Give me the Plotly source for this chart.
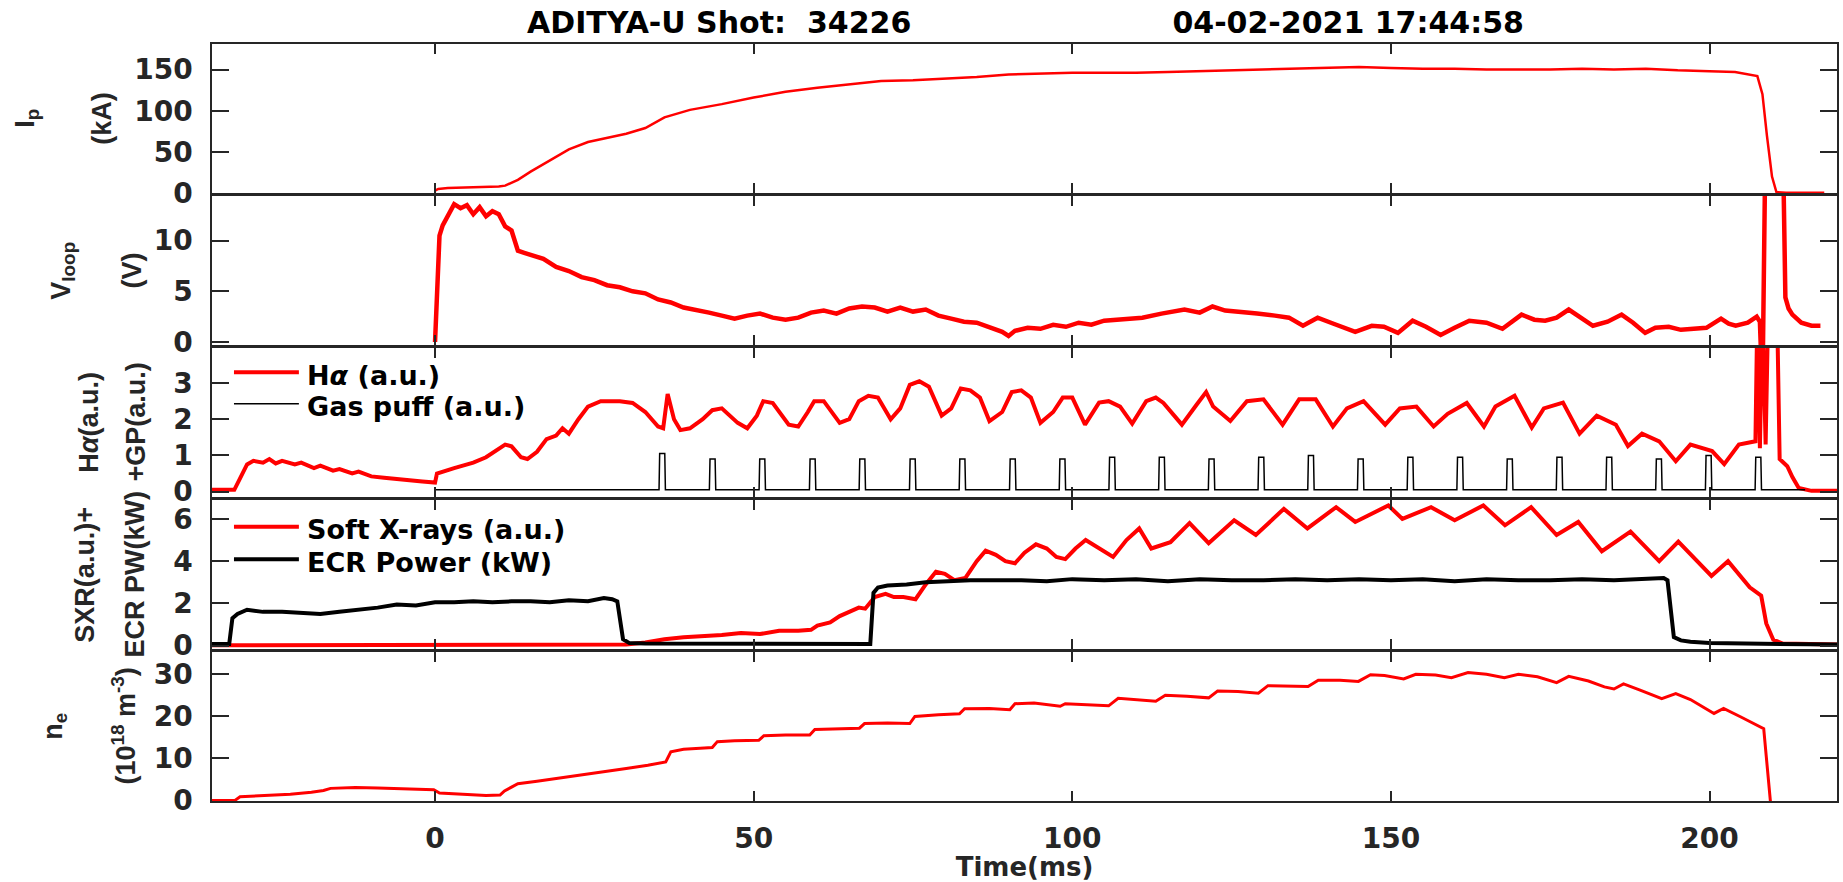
import plotly.graph_objects as go

# ---------------- time axis ----------------
X_RANGE = [-35, 220]
X_TICKS = [0, 50, 100, 150, 200]

# ---------------- plasma current Ip (kA) ----------------
ip_t = [0, 0.5, 2, 5, 8, 10, 11, 13, 15, 18, 21, 24, 27, 30, 33, 36, 40, 45, 50, 55,
        60, 65, 70, 75, 80, 85, 90, 95, 100, 105, 110, 115, 120, 125, 130, 135, 140, 145,
        150, 155, 160, 165, 170, 175, 180, 185, 190, 195, 200, 204, 207.5, 208.3, 209,
        209.8, 210.5, 212, 215, 218]
ip_v = [3, 5, 6, 6.5, 7, 8, 9, 16, 26, 40, 53, 62, 67, 72, 79, 92, 101, 108, 116, 123,
        128, 132, 136, 137, 139, 141, 144, 145, 146, 146, 146, 147, 148, 149, 150, 151, 152, 153,
        152, 151, 151, 150, 150, 150, 151, 150, 151, 149, 148, 147, 142, 120, 70,
        20, 1, 0.5, 0.5, 0.5]

# ---------------- loop voltage (V) ----------------
vl_t = [0, 0.7, 1.2, 2, 3, 4, 5, 6, 7, 8, 9, 10, 11, 12, 13, 14, 15, 17, 19, 21,
        23, 25, 27, 29, 31, 33, 35, 37, 39, 41, 43, 45, 47, 49, 51, 53, 55, 57, 59, 61,
        63, 65, 67, 69, 71, 73, 75, 77, 79, 81, 83, 85, 87, 89, 90, 91, 93, 95, 97, 99,
        101, 103, 105, 108, 111, 114, 117.6, 120, 122, 124, 126.5, 129, 131.8, 134, 136.2,
        138.5, 141, 144.4, 147, 148.9, 151.1, 153.4, 155.5, 157.8, 160, 162.3, 165, 167.5,
        170.5, 172.5, 174.2, 176, 177.9, 180, 181.7, 184, 186.2, 188, 189.9, 191.5, 193.6,
        195.5, 197.4, 199.5, 201.8, 203, 204.1, 206, 207.4, 207.9, 208.3, 208.7, 209.3,
        211.5, 211.9, 212.4, 213, 214.4, 216, 217.4]
vl_v = [0, 10.5, 11.5, 12.5, 13.6, 13.2, 13.5, 12.6, 13.3, 12.4, 12.9, 12.6, 11.4, 11.0, 9.0, 8.8, 8.6, 8.2, 7.4, 7.0,
        6.4, 6.1, 5.6, 5.4, 5.0, 4.8, 4.2, 3.9, 3.4, 3.2, 2.9, 2.6, 2.3, 2.6, 2.8, 2.4, 2.2, 2.4, 2.9, 3.1,
        2.8, 3.3, 3.5, 3.4, 3.0, 3.4, 3.0, 3.2, 2.6, 2.3, 2.0, 1.9, 1.5, 1.0, 0.6, 1.1, 1.4, 1.3, 1.7, 1.5,
        1.9, 1.7, 2.1, 2.3, 2.4, 2.8, 3.2, 2.9, 3.5, 3.1, 2.9, 2.8, 2.6, 2.4, 1.6,
        2.4, 1.8, 1.0, 1.6, 1.5, 0.9, 2.1, 1.5, 0.7, 1.4, 2.1, 1.9, 1.3,
        2.7, 2.2, 2.1, 2.4, 3.2, 2.3, 1.6, 2.0, 2.7, 1.9, 0.9, 1.4, 1.5,
        1.2, 1.3, 1.4, 2.3, 1.8, 1.6, 1.9, 2.5, 2.0, -5, 16, 20,
        20, 4.4, 3.3, 2.7, 1.9, 1.6, 1.6]

# ---------------- H-alpha (a.u.) ----------------
ha_t = [-35, -31.5, -30.5, -29.5, -28.5, -27, -26, -25, -24, -22, -21, -19, -18, -16, -15, -13,
        -12, -10, -8, -5, -2, 0, 0.3, 3, 6, 8, 10, 11, 12, 13.5, 14.5, 16, 17.5, 19, 20, 21,
        22.5, 24, 26, 29, 31, 33, 35, 35.8, 36.5, 37.5, 38.5, 40, 42, 43.5, 45, 47.5, 49,
        50.5, 51.5, 53, 55.5, 57, 58.5, 59.5, 61, 63.5, 65, 66.5, 68, 69.5, 71.5, 73, 74.5,
        76, 77.5, 79.5, 81, 82.5, 84, 85.5, 87, 89, 90.5, 92, 93.5, 95, 97, 98.5, 100, 102,
        104.2, 105.7, 107.5, 109.4, 111.6, 113.1, 114.3, 117.2, 119.5, 121, 122.1, 124.8,
        127.4, 130, 133, 135.6, 138.2, 140.9, 143.1, 145.7, 149.1, 151.4, 154, 156.7, 158.9,
        161.9, 164.6, 166.4, 169.4, 172.1, 174, 177, 179.6, 182.3, 185.3, 187.2, 189.4,
        192.1, 194.7, 197, 200.4, 202.3, 204.6, 207.2, 207.5, 207.9, 208.3, 208.8, 209.2,
        210.6, 211, 212.2, 213, 214, 216, 220]
ha_v = [0.05, 0.05, 0.4, 0.75, 0.85, 0.8, 0.9, 0.78, 0.85, 0.75, 0.8, 0.65, 0.72, 0.58, 0.62, 0.5,
        0.55, 0.42, 0.38, 0.32, 0.28, 0.25, 0.5, 0.65, 0.8, 0.95, 1.2, 1.3, 1.25, 0.95, 0.9, 1.1, 1.45, 1.55, 1.75, 1.6,
        2.0, 2.35, 2.5, 2.5, 2.45, 2.2, 1.8, 1.75, 2.7, 2.0, 1.7, 1.75, 2.0, 2.25, 2.3, 1.9, 1.75,
        2.1, 2.5, 2.45, 1.85, 1.8, 2.2, 2.5, 2.5, 1.9, 2.0, 2.5, 2.65, 2.6, 2.0, 2.3, 2.95,
        3.05, 2.9, 2.1, 2.3, 2.85, 2.8, 2.6, 1.95, 2.2, 2.75, 2.8, 2.6, 1.9, 2.2, 2.6, 2.6, 1.85,
        2.46, 2.5, 2.35, 1.88, 2.5, 2.6, 2.45, 1.85, 2.4, 2.75, 2.35, 1.95,
        2.5, 2.55, 1.85, 2.55, 2.55, 1.8, 2.3, 2.5, 1.85, 2.3, 2.35, 1.8, 2.15,
        2.45, 1.8, 2.35, 2.65, 1.77, 2.3, 2.46, 1.6, 2.1, 1.85, 1.26, 1.6,
        1.39, 0.84, 1.3, 1.12, 0.76, 1.3, 1.39, 5, 1.2, 5, 1.3, 5,
        5, 0.9, 0.7, 0.4, 0.1, 0.02, 0.02]

# ---------------- gas puff valve pulses (a.u.) ----------------
GP_BASE = 0.05
GP_START, GP_END = 0, 215
puff_t = [35.6, 43.5, 51.3, 59.2, 67.0, 74.9, 82.7, 90.6, 98.4, 106.2, 114.0, 121.8,
          129.6, 137.4, 145.2, 153.0, 160.8, 168.6, 176.4, 184.2, 192.0, 199.8, 207.6]
puff_h = [1.05, 0.9, 0.9, 0.9, 0.9, 0.9, 0.9, 0.9, 0.9, 0.95, 0.95, 0.9,
          0.95, 1.0, 0.9, 0.95, 0.95, 0.9, 0.95, 0.95, 0.9, 1.0, 0.95]
PULSE_HALF_WIDTH = 0.45

# ---------------- soft X-ray (a.u.) ----------------
sxr_t = [-35, -20, -5, 0, 10, 20, 28, 30, 33, 36, 39, 42, 45, 48, 51, 54, 57, 59, 60, 62,
         63.5, 65, 66.5, 67.5, 69, 70.7, 72, 73.5, 75.4, 77, 78.6, 80, 81.5, 83.2, 85, 86.4,
         88, 89.5, 91, 92.5, 94.3, 96, 97.5, 98.9, 100.5, 102.1, 104.2, 106.4, 108.5, 110.5,
         112.4, 115.4, 118.4, 121.4, 125.4, 128.8, 133.2, 136.9, 141.4, 144.4, 149.6, 151.8,
         156.3, 160, 164.5, 167.9, 172, 176, 179.4, 183.1, 187.6, 192.1, 195.1, 200.3, 202.9,
         206.3, 208.1, 208.9, 210, 211.5, 220]
sxr_v = [0.02, 0.03, 0.02, 0.04, 0.02, 0.03, 0.03, 0.05, 0.15, 0.3, 0.4, 0.45, 0.5, 0.6, 0.55, 0.7, 0.7, 0.75, 0.95, 1.1,
         1.4, 1.6, 1.8, 1.75, 2.3, 2.45, 2.3, 2.3, 2.2, 2.9, 3.5, 3.4, 3.1, 3.2, 4.0, 4.5,
         4.3, 4.0, 3.9, 4.4, 4.8, 4.6, 4.2, 4.1, 4.6, 5.0, 4.6, 4.2, 5.0, 5.55,
         4.6, 4.9, 5.8, 4.85, 5.94, 5.24, 6.48, 5.55, 6.56, 5.86, 6.64, 6.0,
         6.56, 5.94, 6.64, 5.7, 6.56, 5.24, 5.86, 4.47, 5.4, 4.0, 4.93, 3.3, 4.0,
         2.76, 2.37, 1.05, 0.28, 0.1, 0.05]

# ---------------- ECR power (kW) ----------------
ecr_t = [-35, -32.3, -31.8, -31, -29.5, -27, -24, -21, -18, -15, -12, -9, -6, -3, 0, 3, 6, 9, 12, 15,
         18, 21, 24, 26.5, 27.8, 28.6, 29.5, 30.5, 33, 40, 50, 60, 68.3, 68.8, 69.5, 71, 74, 77, 80, 84,
         88, 92, 96, 100, 105, 110, 115, 120, 125, 130, 135, 140, 145, 150, 155, 160, 165, 170, 175, 180,
         185, 190, 192.8, 193.4, 194.4, 195.5, 197, 200, 210, 220]
ecr_v = [0.08, 0.08, 1.3, 1.5, 1.7, 1.6, 1.6, 1.55, 1.5, 1.6, 1.7, 1.8, 1.95, 1.9, 2.05, 2.05, 2.1, 2.05, 2.1, 2.1,
         2.05, 2.15, 2.1, 2.25, 2.2, 2.1, 0.3, 0.12, 0.1, 0.1, 0.08, 0.08, 0.08, 2.5, 2.75, 2.85, 2.9, 3.0, 3.05, 3.1,
         3.1, 3.1, 3.05, 3.15, 3.1, 3.15, 3.05, 3.15, 3.1, 3.1, 3.15, 3.1, 3.15, 3.1, 3.15, 3.05, 3.15, 3.1, 3.1, 3.15,
         3.1, 3.15, 3.2, 3.1, 0.4, 0.25, 0.18, 0.12, 0.08, 0.05]

# ---------------- line-averaged density (1e18 m^-3) ----------------
ne_t = [-35, -31.4, -30.6, -28, -25, -22.7, -19.4, -17.5, -16.4, -12.5, -9, -5.4, -2, -0.2, 0.7, 3,
        5.3, 8, 10.2, 10.9, 12, 13, 16, 19.4, 23, 26.3, 30, 33.4, 36.2, 37, 39, 41.6, 43.5, 44.3,
        47, 50.8, 51.6, 55, 58.8, 59.6, 63, 66.6, 67.4, 71, 74.5, 75.3, 79, 82.3, 83.1, 87, 90.2,
        91, 94, 98.1, 98.9, 102, 105.7, 107.2, 110, 113.1, 114.6, 118, 121.4, 122.8, 126, 129.2,
        130.7, 134, 137, 138.6, 142, 144.9, 146.8, 149, 152, 153.9, 157, 159.5, 162.1, 165, 167.8,
        170, 173, 176, 177.9, 181, 183.5, 185, 186.5, 189, 192.5, 194.7, 197, 200.7, 202.2, 205,
        207.4, 208.5, 208.9, 209.6, 210]
ne_v = [0, 0.05, 0.9, 1.1, 1.3, 1.5, 2.0, 2.4, 2.9, 3.1, 3.0, 2.8, 2.7, 2.6, 1.8, 1.6,
        1.3, 1.2, 1.3, 2.3, 3.2, 4.0, 4.6, 5.3, 6.0, 6.8, 7.6, 8.4, 9.2, 11.6, 12.2, 12.4, 12.6, 14.0,
        14.2, 14.3, 15.4, 15.6, 15.6, 16.9, 17.1, 17.2, 18.3, 18.4, 18.3, 20.0, 20.4, 20.6, 21.8, 21.9, 21.6,
        23.0, 23.2, 22.4, 23.0, 22.8, 22.5, 24.3, 24.0, 23.6, 25.0, 24.8, 24.4, 26.0, 25.9, 25.5,
        27.3, 27.2, 27.1, 28.6, 28.6, 28.3, 29.9, 29.7, 28.9, 30.0, 29.8, 29.2, 30.4, 30.0, 29.2,
        30.0, 29.4, 28.0, 29.5, 28.4, 27.0, 26.5, 27.7, 26.3, 24.2, 25.4, 24.0, 20.7, 21.9, 19.8,
        17.9, 17.1, 10.5, -1, -2]

# ---------------- panel set-up ----------------
Y_RANGES = [[0, 181], [-0.3, 14.4], [-0.15, 3.97], [-0.16, 6.9], [-0.1, 35.3]]
Y_TICKS = [[0, 50, 100, 150], [0, 5, 10], [0, 1, 2, 3], [0, 2, 4, 6], [0, 10, 20, 30]]
Y_LABELS = [
    [("I<sub>p</sub>", 26), ("(kA)", 101)],
    [("V<sub>loop</sub>", 62), ("(V)", 131)],
    [("H<i>\u03b1</i>(a.u.)", 88), ("+GP(a.u.)", 135)],
    [("SXR(a.u.)+", 85), ("ECR PW(kW)", 135)],
    [("n<sub>e</sub>", 55), ("(10<sup>18</sup> m<sup>-3</sup>)", 124)],
]
TITLE_LEFT = "ADITYA-U Shot:\u00a0\u00a034226"
TITLE_RIGHT = "04-02-2021 17:44:58"

W, H = 1843, 882
M_L, M_R, M_T, M_B = 212, 4, 44, 68
PLOT_W = W - M_L - M_R
PLOT_H = H - M_T - M_B
N = 5
GAP = 3 / PLOT_H
PANEL_H = (1 - GAP * (N - 1)) / N

RED = "#ff0000"
BLACK = "#000000"
AXIS_COL = "#262626"
TXT_FONT = dict(family="DejaVu Sans", size=28, color=AXIS_COL, weight="bold")
LBL_FONT = dict(family="Liberation Sans", size=27, color=AXIS_COL, weight="bold")
LEG_FONT = dict(family="DejaVu Sans", size=27, color=BLACK, weight="bold")

# legend boxes drawn inside panels 3 and 4: (label, colour, line width, row centre in px from top)
LEGEND_ROWS = [
    ("H<i>\u03b1</i> (a.u.)", RED, 4, 381),
    ("Gas puff (a.u.)", BLACK, 1.5, 413),
    ("Soft X-rays (a.u.)", RED, 4, 538),
    ("ECR Power (kW)", BLACK, 4, 571),
]
LEG_KEY_X0, LEG_KEY_X1, LEG_TEXT_X = 234, 299, 305
LEG_KEY_RAISE = 3

fig = go.Figure()


def axis_ids(i):
    s = "" if i == 0 else str(i + 1)
    return "x" + s, "y" + s


def add_line(i, x, y, color, width, name):
    xa, ya = axis_ids(i)
    fig.add_trace(go.Scatter(
        x=x, y=y, mode="lines", xaxis=xa, yaxis=ya,
        line=dict(color=color, width=width),
        name=name, showlegend=False, hoverinfo="skip",
    ))


# gas-puff trace: flat baseline with a rectangular pulse at each valve opening
gp_x, gp_y = [GP_START], [GP_BASE]
for tp, hp in zip(puff_t, puff_h):
    gp_x += [tp - PULSE_HALF_WIDTH, tp - PULSE_HALF_WIDTH + 0.1,
             tp + PULSE_HALF_WIDTH, tp + PULSE_HALF_WIDTH + 0.1]
    gp_y += [GP_BASE, hp, hp, GP_BASE]
gp_x.append(GP_END)
gp_y.append(GP_BASE)

add_line(0, ip_t, ip_v, RED, 2.5, "Ip")
add_line(1, vl_t, vl_v, RED, 4.5, "Vloop")
add_line(2, ha_t, ha_v, RED, 4, "H\u03b1 (a.u.)")
add_line(2, gp_x, gp_y, BLACK, 1.5, "Gas puff (a.u.)")
add_line(3, sxr_t, sxr_v, RED, 4, "Soft X-rays (a.u.)")
add_line(3, ecr_t, ecr_v, BLACK, 4, "ECR Power (kW)")
add_line(4, ne_t, ne_v, RED, 3, "ne")


def px_x(px):
    return (px - M_L) / PLOT_W


def px_y(py):
    return (H - M_B - py) / PLOT_H


layout = dict(
    width=W, height=H,
    margin=dict(l=M_L, r=M_R, t=M_T, b=M_B),
    paper_bgcolor="white", plot_bgcolor="white",
    showlegend=False,
    title=dict(
        text=TITLE_LEFT + "\u00a0" * 25 + TITLE_RIGHT,
        x=(M_L + PLOT_W / 2) / W, xanchor="center", xref="container",
        y=1 - 22 / H, yanchor="middle", yref="container",
        font=dict(family="DejaVu Sans", size=30, color=BLACK, weight="bold"),
    ),
)

annotations = []
shapes = []
for i in range(N):
    top = 1 - i * (PANEL_H + GAP)
    bottom = top - PANEL_H
    xa, ya = axis_ids(i)
    xkey = "xaxis" if i == 0 else "xaxis%d" % (i + 1)
    ykey = "yaxis" if i == 0 else "yaxis%d" % (i + 1)
    last = i == N - 1
    layout[xkey] = dict(
        domain=[0, 1], anchor=ya, range=X_RANGE, tickvals=X_TICKS,
        ticks="inside", ticklen=10, tickwidth=1.5, tickcolor=AXIS_COL,
        showline=True, linecolor=AXIS_COL, linewidth=1.5, mirror="all",
        showgrid=False, zeroline=False, showticklabels=last,
        tickfont=TXT_FONT, ticklabelstandoff=12,
    )
    if last:
        layout[xkey]["title"] = dict(text="Time(ms)", font=dict(family="DejaVu Sans", size=26,
                                                                color=AXIS_COL, weight="bold"),
                                     standoff=4)
    else:
        layout[xkey]["matches"] = "x" + str(N)
    layout[ykey] = dict(
        domain=[max(bottom, 0), min(top, 1)], anchor=xa, range=Y_RANGES[i], tickvals=Y_TICKS[i],
        ticks="inside", ticklen=17, tickwidth=1.5, tickcolor=AXIS_COL,
        showline=True, linecolor=AXIS_COL, linewidth=1.5, mirror="all",
        showgrid=False, zeroline=False, tickfont=TXT_FONT, ticklabelstandoff=12,
    )
    for text, px in Y_LABELS[i]:
        annotations.append(dict(
            text=text, xref="paper", yref="paper",
            x=px_x(px), y=(top + bottom) / 2,
            xanchor="center", yanchor="middle", textangle=-90,
            showarrow=False, font=LBL_FONT,
        ))

# legend keys and labels
for label, color, width, row_y in LEGEND_ROWS:
    key_y = px_y(row_y - LEG_KEY_RAISE)
    shapes.append(dict(
        type="line", xref="paper", yref="paper",
        x0=px_x(LEG_KEY_X0), x1=px_x(LEG_KEY_X1), y0=key_y, y1=key_y,
        line=dict(color=color, width=width),
    ))
    annotations.append(dict(
        text=label, xref="paper", yref="paper",
        x=px_x(LEG_TEXT_X), y=px_y(row_y), xanchor="left", yanchor="middle",
        showarrow=False, font=LEG_FONT,
    ))

layout["annotations"] = annotations
layout["shapes"] = shapes
fig.update_layout(**layout)
fig.write_html("out.html")
